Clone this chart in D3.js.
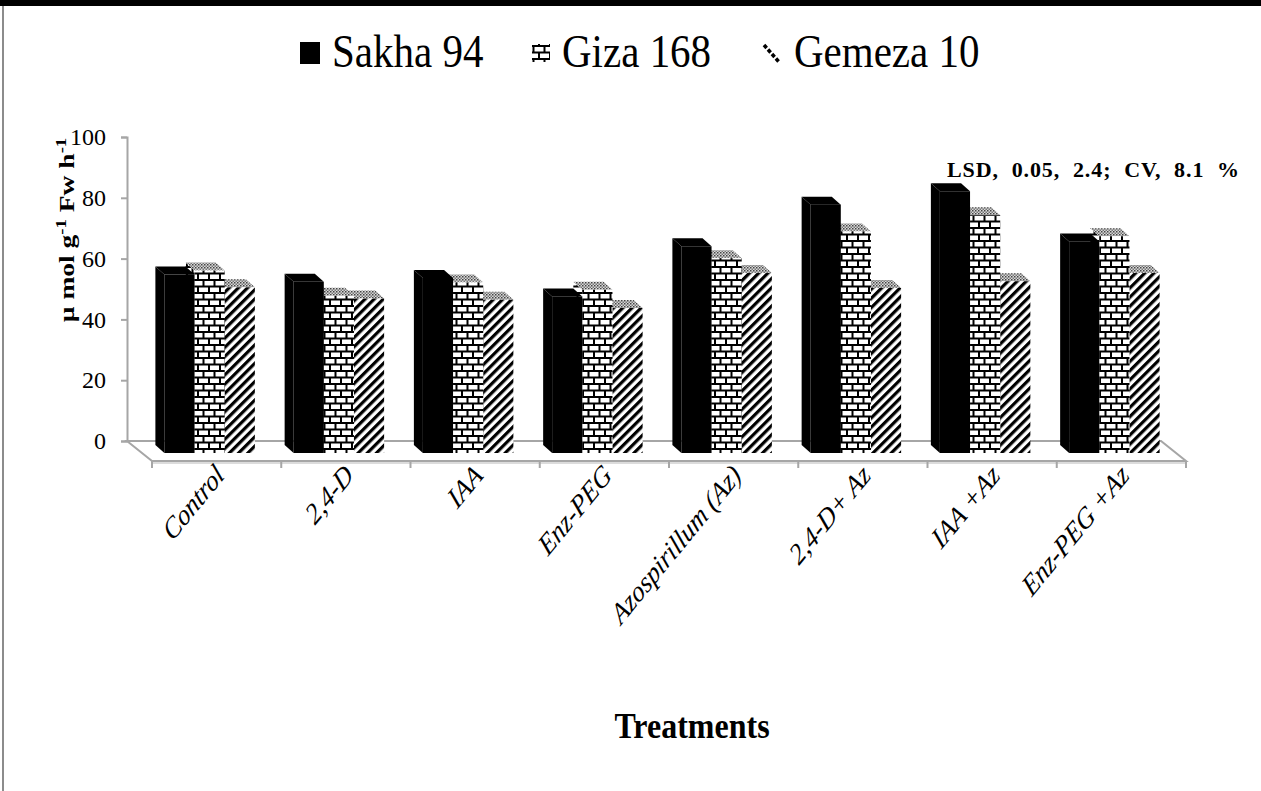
<!DOCTYPE html>
<html>
<head>
<meta charset="utf-8">
<script src="https://cdn.jsdelivr.net/npm/d3@7"></script>
<style>
  html, body { margin: 0; padding: 0; background: #fff; }
  svg { display: block; }
  text { font-family: "Liberation Serif", "Times New Roman", serif; }
</style>
</head>
<body>
<script>
const canvasWidth = 1261,
  canvasHeight = 791;

// treatments on the x axis
const categories = [
  "Control",
  "2,4-D",
  "IAA",
  "Enz-PEG",
  "Azospirillum (Az)",
  "2,4-D+ Az",
  "IAA +Az",
  "Enz-PEG +Az"
];
const seriesNames = ["Sakha 94", "Giza 168", "Gemeza 10"];
const sakha94 = [58.7, 56.3, 57.6, 51.5, 68.0, 81.7, 86.1, 69.6];
const giza168 = [60.0, 51.7, 56.1, 53.7, 64.1, 72.9, 78.2, 71.3];
const gemeza10 = [54.5, 50.8, 50.4, 47.7, 59.2, 54.3, 56.5, 59.2];
const yTicks = [0, 20, 40, 60, 80, 100];

const seriesValues = [sakha94, giza168, gemeza10];

// plot box (back wall) and the 3d depth of the floor
const plotLeft = 127,
  plotRight = 1161,
  plotTop = 137,
  plotBottom = 441,
  floorDx = 25,
  floorDy = 20;
// bars sit part way into the floor, box depth gives the top face
const barDx = 18,
  barDy = 12,
  boxDx = 9,
  boxDy = 8;

const svg = d3
  .select("body")
  .append("svg")
  .attr("width", canvasWidth)
  .attr("height", canvasHeight);

const defs = svg.append("defs");

// brick fill
const brick = defs
  .append("pattern")
  .attr("id", "brick")
  .attr("patternUnits", "userSpaceOnUse")
  .attr("width", 11)
  .attr("height", 13);
brick.append("rect").attr("width", 11).attr("height", 13).attr("fill", "#000");
[
  [1, 1.5, 9, 4.5],
  [0, 8, 4.5, 4.5],
  [6.5, 8, 4.5, 4.5]
].forEach(r => {
  brick
    .append("rect")
    .attr("x", r[0])
    .attr("y", r[1])
    .attr("width", r[2])
    .attr("height", r[3])
    .attr("fill", "#fff");
});

// diagonal hatch
const hatch = defs
  .append("pattern")
  .attr("id", "hatch")
  .attr("patternUnits", "userSpaceOnUse")
  .attr("width", 6.5)
  .attr("height", 6.5)
  .attr("patternTransform", "rotate(45)");
hatch.append("rect").attr("width", 6.5).attr("height", 6.5).attr("fill", "#fff");
hatch.append("rect").attr("width", 3.2).attr("height", 6.5).attr("fill", "#000");

// speckled top faces
const speck = defs
  .append("pattern")
  .attr("id", "speck")
  .attr("patternUnits", "userSpaceOnUse")
  .attr("width", 3)
  .attr("height", 3);
speck.append("rect").attr("width", 3).attr("height", 3).attr("fill", "#d8d8d8");
speck.append("rect").attr("width", 1.5).attr("height", 1.5).attr("fill", "#444");
speck.append("rect").attr("x", 1.5).attr("y", 1.5).attr("width", 1.5).attr("height", 1.5).attr("fill", "#777");

const fronts = ["#000", "url(#brick)", "url(#hatch)"];
const tops = ["#000", "url(#speck)", "url(#speck)"];
const sides = ["#000", "url(#brick)", "url(#hatch)"];

// frame: black band on top, grey rule on the left
svg.append("rect").attr("x", 0).attr("y", 0).attr("width", canvasWidth).attr("height", 6).attr("fill", "#000");
svg.append("line").attr("x1", 3).attr("x2", 3).attr("y1", 6).attr("y2", canvasHeight).attr("stroke", "#8c8c8c").attr("stroke-width", 2);

const y = d3.scaleLinear().domain([0, 100]).range([plotBottom, plotTop]);

const x0 = d3
  .scaleBand()
  .domain(categories)
  .range([plotLeft, plotRight])
  .paddingInner(0.3)
  .paddingOuter(0.15);

const x1 = d3
  .scaleBand()
  .domain(seriesNames)
  .range([0, x0.bandwidth()]);

// floor
const floor = svg.append("g").attr("stroke", "#a6a6a6").attr("stroke-width", 2).attr("fill", "none");
floor
  .append("path")
  .attr(
    "d",
    `M${plotLeft},${plotBottom}L${plotRight},${plotBottom}L${plotRight + floorDx},${plotBottom + floorDy}L${plotLeft + floorDx},${plotBottom + floorDy}Z`
  );
floor
  .append("line")
  .attr("x1", plotLeft + floorDx)
  .attr("x2", plotRight + floorDx)
  .attr("y1", plotBottom + floorDy + 2)
  .attr("y2", plotBottom + floorDy + 2)
  .attr("stroke", "#d0d0d0")
  .attr("stroke-width", 1.5);

// category ticks on the front edge
const step = x0.step();
d3.range(categories.length + 1).forEach(i => {
  const xx = plotLeft + floorDx + i * step;
  floor
    .append("line")
    .attr("x1", xx)
    .attr("x2", xx)
    .attr("y1", plotBottom + floorDy)
    .attr("y2", plotBottom + floorDy + 7);
});

// y axis
const yAxis = svg
  .append("g")
  .attr("transform", `translate(${plotLeft},0)`)
  .call(d3.axisLeft(y).tickValues(yTicks).tickSize(6).tickPadding(15));
yAxis.attr("font-family", null);
yAxis.select(".domain").attr("stroke", "#a6a6a6").attr("stroke-width", 2);
yAxis.selectAll(".tick line").attr("stroke", "#a6a6a6").attr("stroke-width", 2);
yAxis
  .selectAll(".tick text")
  .attr("font-size", 24)
  .attr("fill", "#000");

// bars
const bars = svg.append("g");
categories.forEach((cat, ci) => {
  // draw right to left so the left bars cover the ones behind
  for (let si = seriesNames.length - 1; si >= 0; si--) {
    const v = seriesValues[si][ci];
    const xl = x0(cat) + x1(seriesNames[si]) + barDx,
      xr = xl + x1.bandwidth(),
      yt = y(v) + barDy,
      yb = y(0) + barDy;
    const g = bars.append("g");
    g.append("path")
      .attr("d", `M${xl},${yb}L${xl},${yt}L${xl - boxDx},${yt - boxDy}L${xl - boxDx},${yb - boxDy}Z`)
      .attr("fill", sides[si]);
    g.append("path")
      .attr("d", `M${xl},${yt}L${xr},${yt}L${xr - boxDx},${yt - boxDy}L${xl - boxDx},${yt - boxDy}Z`)
      .attr("fill", tops[si]);
    g.append("rect")
      .attr("x", xl)
      .attr("y", yt)
      .attr("width", x1.bandwidth())
      .attr("height", yb - yt)
      .attr("fill", fronts[si]);
  }
});

// x labels (slanted, a bit stretched upward like the source)
svg
  .append("g")
  .selectAll("text")
  .data(categories)
  .join("text")
  .attr(
    "transform",
    d => `translate(${x0(d) + x0.bandwidth() / 2 + floorDx + 9},${plotBottom + floorDy + 16}) scale(1,1.22) rotate(-45)`
  )
  .attr("text-anchor", "end")
  .attr("font-style", "italic")
  .attr("font-size", 24.5)
  .text(d => d);

// y label, glyphs stretched a little like the original
const yLabel = svg
  .append("text")
  .attr("transform", `translate(74,230) rotate(-90) scale(1.25,1)`)
  .attr("text-anchor", "middle")
  .attr("font-weight", "bold")
  .attr("font-size", 22);
yLabel.append("tspan").text("µ mol g");
yLabel.append("tspan").attr("dy", -8).attr("font-size", 15).text("-1");
yLabel.append("tspan").attr("dy", 8).text(" Fw h");
yLabel.append("tspan").attr("dy", -8).attr("font-size", 15).text("-1");

// LSD note
svg
  .append("text")
  .attr("x", 1240)
  .attr("y", 177)
  .attr("text-anchor", "end")
  .attr("font-weight", "bold")
  .attr("font-size", 22)
  .attr("letter-spacing", 0.9)
  .attr("xml:space", "preserve")
  .text("LSD,  0.05,  2.4;  CV,  8.1  %");

// x title
svg
  .append("text")
  .attr("transform", "translate(692,738) scale(1,1.12)")
  .attr("text-anchor", "middle")
  .attr("font-weight", "bold")
  .attr("font-size", 32)
  .text("Treatments");

// legend
const legendX = [300, 530, 762];
const legend = svg.append("g");
seriesNames.forEach((name, i) => {
  const lx = legendX[i];
  if (i === 0) {
    legend.append("rect").attr("x", lx).attr("y", 42).attr("width", 20).attr("height", 22).attr("fill", "#000");
  } else if (i === 1) {
    legend.append("rect").attr("x", lx + 2).attr("y", 44).attr("width", 18).attr("height", 18).attr("fill", "url(#brick)");
  } else {
    legend
      .append("line")
      .attr("x1", lx + 2)
      .attr("y1", 45)
      .attr("x2", lx + 17)
      .attr("y2", 62)
      .attr("stroke", "#000")
      .attr("stroke-width", 3.5)
      .attr("stroke-dasharray", "4 2");
  }
  legend
    .append("text")
    .attr("transform", `translate(${lx + 32},67) scale(1,1.15)`)
    .attr("font-size", 41)
    .text(name);
});
</script>
</body>
</html>
